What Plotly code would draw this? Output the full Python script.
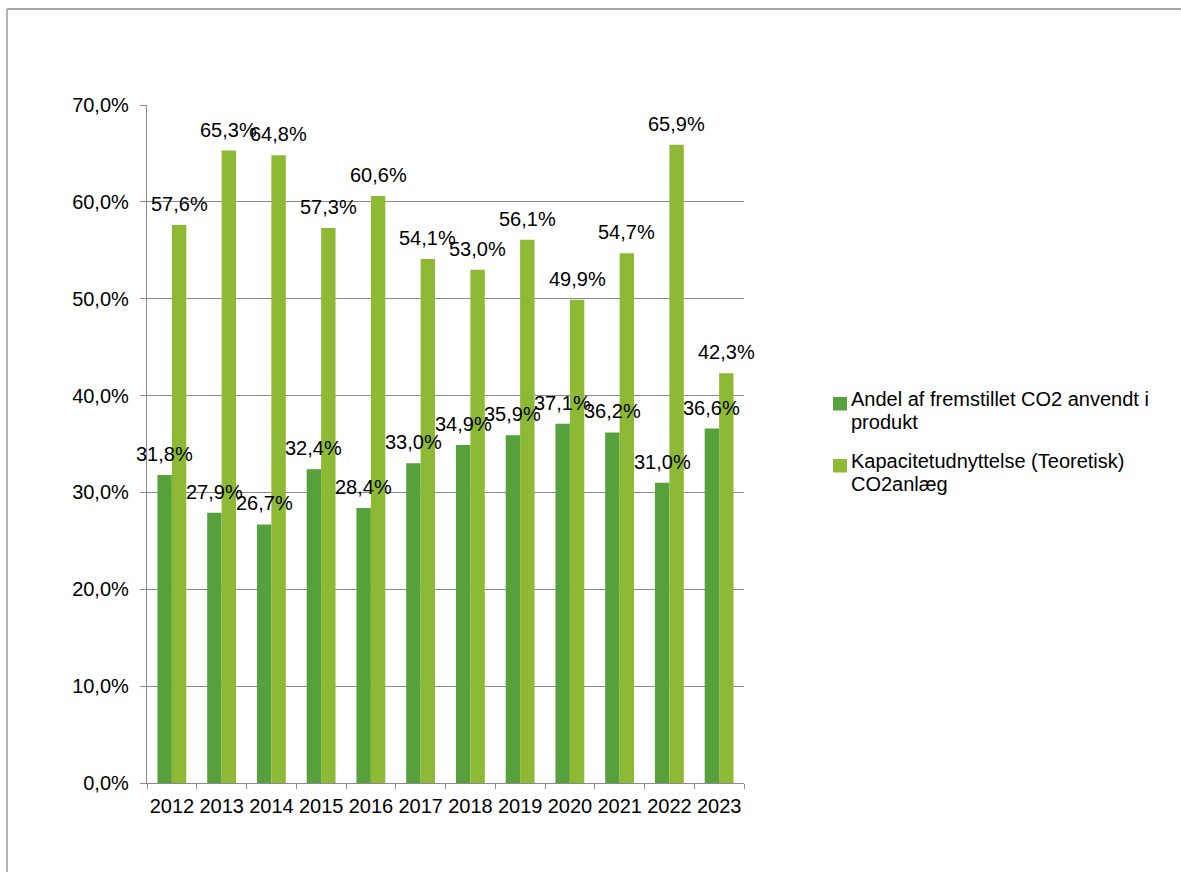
import plotly.graph_objects as go

years = ["2012", "2013", "2014", "2015", "2016", "2017", "2018", "2019", "2020", "2021", "2022", "2023"]
andel_produkt = [31.8, 27.9, 26.7, 32.4, 28.4, 33.0, 34.9, 35.9, 37.1, 36.2, 31.0, 36.6]
kapacitet = [57.6, 65.3, 64.8, 57.3, 60.6, 54.1, 53.0, 56.1, 49.9, 54.7, 65.9, 42.3]
y_ticks = [0, 10, 20, 30, 40, 50, 60, 70]

legend_lines_a = ["Andel af fremstillet CO2 anvendt i", "produkt"]
legend_lines_b = ["Kapacitetudnyttelse (Teoretisk)", "CO2anlæg"]
col_a = "#56A13B"
col_b = "#8DB935"
frame_col = "#8A8A8A"
FONT = "Liberation Sans, Arial, sans-serif"
FS = 20

W, H = 1181, 872
L, R, T, B = 147, 437, 105, 89
plot_w = W - L - R
plot_h = H - T - B
bargap = 0.42
bar_px = plot_w / len(years) * (1 - bargap) / 2


def pct(v):
    return f"{v:.1f}%".replace(".", ",")


# pixel -> paper helpers for elements outside the plot area
px2x = lambda px: (px - L) / plot_w
px2y = lambda py: (H - B - py) / plot_h

fig = go.Figure()
fig.add_bar(x=years, y=andel_produkt, name=" ".join(legend_lines_a),
            marker_color=col_a, marker_line_width=0)
fig.add_bar(x=years, y=kapacitet, name=" ".join(legend_lines_b),
            marker_color=col_b, marker_line_width=0)

# value labels above each bar
annotations = []
for series, shift in ((andel_produkt, -bar_px / 2), (kapacitet, bar_px / 2)):
    for i, v in enumerate(series):
        annotations.append(dict(
            x=i, y=v, xref="x", yref="y",
            text=pct(v),
            showarrow=False, xshift=shift, yshift=21,
            xanchor="center", yanchor="middle",
            font=dict(size=FS, color="#000000", family=FONT),
        ))

shapes = [
    # outer frame
    dict(type="line", xref="paper", yref="paper", x0=px2x(7), x1=px2x(W + 20), y0=px2y(9), y1=px2y(9),
         line=dict(color=frame_col, width=1.3)),
    dict(type="line", xref="paper", yref="paper", x0=px2x(7), x1=px2x(7), y0=px2y(9), y1=px2y(H + 20),
         line=dict(color=frame_col, width=1.3)),
]

# legend: colour square + two text lines per series
for lines, col, y_top in ((legend_lines_a, col_a, 397), (legend_lines_b, col_b, 459)):
    shapes.append(dict(type="rect", xref="paper", yref="paper",
                       x0=px2x(833), x1=px2x(847), y0=px2y(y_top), y1=px2y(y_top + 13.5),
                       fillcolor=col, line=dict(width=0)))
    for k, line in enumerate(lines):
        annotations.append(dict(
            x=px2x(849), y=px2y(y_top + 2 + 23 * k), xref="paper", yref="paper",
            text=line, showarrow=False, xanchor="left", yanchor="middle",
            font=dict(size=FS, color="#000000", family=FONT),
        ))

fig.update_layout(
    width=W, height=H,
    margin=dict(l=L, r=R, t=T, b=B, pad=0),
    paper_bgcolor="white", plot_bgcolor="white",
    barmode="group", bargap=bargap, bargroupgap=0,
    font=dict(family=FONT, size=FS, color="#000000"),
    showlegend=False,
    annotations=annotations,
    shapes=shapes,
)

fig.update_xaxes(
    type="category", range=[-0.5, len(years) - 0.5], showgrid=False,
    showline=True, linecolor=frame_col, linewidth=1.3,
    ticks="outside", tickson="boundaries", ticklen=5, tickcolor=frame_col, tickwidth=1.3,
    tickfont=dict(size=FS), tickangle=0, ticklabelstandoff=5,
)
fig.update_yaxes(
    range=[0, 70], tickmode="array", tickvals=y_ticks, ticktext=[pct(t) for t in y_ticks],
    showgrid=True, gridcolor=frame_col, gridwidth=1.3,
    showline=True, linecolor=frame_col, linewidth=1.3,
    ticks="outside", ticklen=6, tickcolor=frame_col, tickwidth=1.3,
    tickfont=dict(size=FS), zeroline=False, ticklabelstandoff=7,
)

fig.write_html("out.html")
